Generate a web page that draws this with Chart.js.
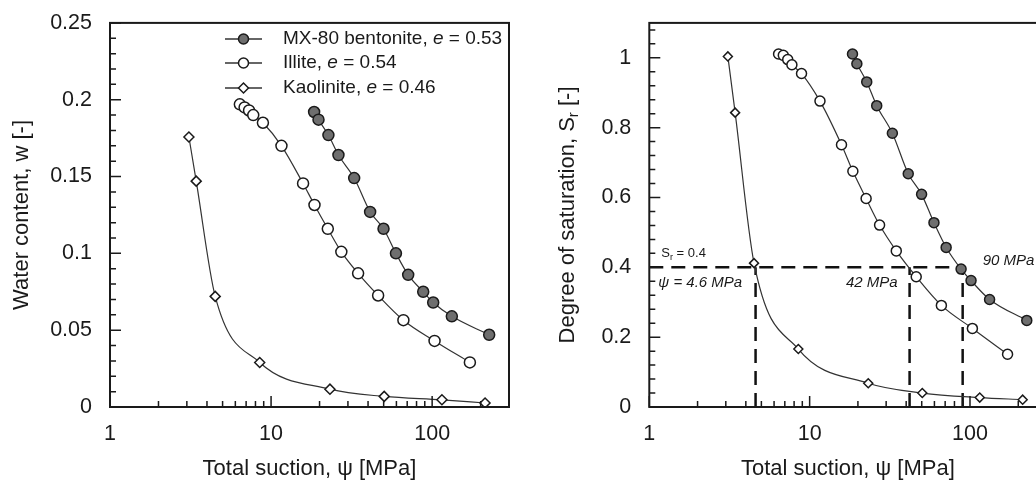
<!DOCTYPE html>
<html>
<head>
<meta charset="utf-8">
<script src="https://cdn.jsdelivr.net/npm/chart.js@4/dist/chart.umd.min.js"></script>
<style>
  html, body { margin: 0; padding: 0; background: #fff; overflow: hidden; }
  #wrapW { position: absolute; left: 0; top: 0; width: 520px; height: 481px; }
  #wrapS { position: absolute; left: 520px; top: 0; width: 540px; height: 481px; }
</style>
</head>
<body>
<div id="wrapW"><canvas id="waterChart" width="520" height="481"></canvas></div>
<div id="wrapS"><canvas id="satChart" width="540" height="481"></canvas></div>
<script>
// series names and void ratios
const seriesNames = ['MX-80 bentonite', 'Illite', 'Kaolinite'];
const voidRatios = [0.53, 0.54, 0.46];

// MX-80 bentonite
const suctionMX = [18.5, 19.7, 22.7, 26.2, 32.8, 41.2, 49.9, 59.6, 71, 88, 101.5, 132.5, 226];
const waterMX = [0.192, 0.187, 0.177, 0.164, 0.149, 0.127, 0.116, 0.100, 0.086, 0.075, 0.068, 0.059, 0.047];
const satMX = [1.011, 0.983, 0.931, 0.863, 0.784, 0.668, 0.609, 0.528, 0.457, 0.395, 0.362, 0.308, 0.248];

// Illite
const suctionIl = [6.4, 6.85, 7.3, 7.75, 8.9, 11.6, 15.8, 18.6, 22.5, 27.3, 34.7, 46.2, 66.3, 103.5, 171.5];
const waterIl = [0.197, 0.195, 0.193, 0.190, 0.185, 0.170, 0.1455, 0.1315, 0.116, 0.101, 0.087, 0.0726, 0.0565, 0.043, 0.029];
const satIl = [1.011, 1.007, 0.995, 0.980, 0.955, 0.876, 0.751, 0.675, 0.597, 0.521, 0.447, 0.373, 0.291, 0.225, 0.151];

// Kaolinite
const suctionKa = [3.09, 3.43, 4.5, 8.5, 23.2, 50.4, 115, 213];
const waterKa = [0.1757, 0.147, 0.072, 0.029, 0.0116, 0.0069, 0.0047, 0.0026];
const satKa = [1.004, 0.843, 0.412, 0.166, 0.068, 0.040, 0.027, 0.021];

// reference lines on the saturation plot
const satRef = 0.4;
const refSuctions = [4.6, 42, 90];

// tick labels
const xTicks = [1, 10, 100];
const yTicksW = [0, 0.05, 0.1, 0.15, 0.2, 0.25];
const yTicksS = [0, 0.2, 0.4, 0.6, 0.8, 1];

const FONT = '"Liberation Sans", Arial, sans-serif';
const INK = '#1a1a1a';

function pts(xs, ys) {
    return xs.map((x, i) => ({ x: x, y: ys[i] }));
}

function seriesSets(ys, big) {
    const r = big ? 5.5 : 5;
    const base = {
        showLine: true,
        borderColor: '#333',
        borderWidth: 1.2,
        pointBorderColor: INK,
        pointBorderWidth: 1.5,
        cubicInterpolationMode: 'monotone',
        order: 1
    };
    return [
        Object.assign({}, base, { label: seriesNames[0], data: pts(suctionMX, ys[0]), pointStyle: 'circle', pointRadius: r, pointBackgroundColor: '#6e6e6e' }),
        Object.assign({}, base, { label: seriesNames[1], data: pts(suctionIl, ys[1]), pointStyle: 'circle', pointRadius: r, pointBackgroundColor: '#fff' }),
        Object.assign({}, base, { label: seriesNames[2], data: pts(suctionKa, ys[2]), pointStyle: 'rectRot', pointRadius: r - 0.5, pointBackgroundColor: '#fff' })
    ];
}

function dashed(data) {
    return {
        label: '',
        data: data,
        showLine: true,
        borderColor: '#111',
        borderWidth: 2.5,
        borderDash: [14, 8],
        pointRadius: 0,
        order: 2
    };
}

// frame, inward ticks, axis titles, legend, annotations
const frame = {
    id: 'frame',
    afterDraw(chart, args, o) {
        const ctx = chart.ctx;
        const a = chart.chartArea;
        const x = chart.scales.x, y = chart.scales.y;
        ctx.save();
        ctx.strokeStyle = INK;
        ctx.lineWidth = 1.5;
        ctx.beginPath();
        const n = Math.floor(y.max / o.yMinor + 1e-6);
        for (let i = 0; i <= n; i++) {
            const v = i * o.yMinor;
            const major = Math.abs(v / o.yMajor - Math.round(v / o.yMajor)) < 1e-6;
            const py = y.getPixelForValue(v);
            ctx.moveTo(a.left, py);
            ctx.lineTo(a.left + (major ? 11 : 6), py);
        }
        for (let d = 1; d <= x.max; d *= 10) {
            for (let m = 1; m <= 9; m++) {
                const v = d * m;
                if (v > x.max) break;
                const px = x.getPixelForValue(v);
                ctx.moveTo(px, a.bottom);
                ctx.lineTo(px, a.bottom - (m === 1 ? 11 : 6));
            }
        }
        ctx.stroke();
        ctx.lineWidth = 2;
        ctx.strokeRect(a.left, a.top, a.right - a.left, a.bottom - a.top);

        // axis titles
        ctx.fillStyle = INK;
        ctx.font = '22px ' + FONT;
        ctx.textAlign = 'center';
        ctx.textBaseline = 'middle';
        ctx.fillText('Total suction, \u03c8 [MPa]', (a.left + a.right) / 2, a.bottom + 62);

        ctx.save();
        ctx.translate(o.yTitleX, (a.top + a.bottom) / 2);
        ctx.rotate(-Math.PI / 2);
        const parts = o.yTitle;
        ctx.textAlign = 'left';
        const widths = parts.map(p => { ctx.font = (p.sub ? '15px ' : '22px ') + FONT; return ctx.measureText(p.t).width; });
        let cx = -widths.reduce((s, w) => s + w, 0) / 2;
        parts.forEach((p, i) => {
            ctx.font = (p.sub ? '15px ' : '22px ') + FONT;
            ctx.fillText(p.t, cx, p.sub ? 6 : 0);
            cx += widths[i];
        });
        ctx.restore();

        if (o.legend) drawLegend(chart);
        if (o.notes) drawNotes(chart);
        ctx.restore();
    }
};

function drawLegend(chart) {
    const ctx = chart.ctx;
    const rows = [39, 63, 88];
    const styles = [
        { s: 'circle', bg: '#6e6e6e' },
        { s: 'circle', bg: '#fff' },
        { s: 'rectRot', bg: '#fff' }
    ];
    rows.forEach((ry, i) => {
        ctx.strokeStyle = '#333';
        ctx.lineWidth = 1.5;
        ctx.beginPath();
        ctx.moveTo(225, ry);
        ctx.lineTo(262, ry);
        ctx.stroke();
        ctx.fillStyle = styles[i].bg;
        ctx.strokeStyle = INK;
        Chart.helpers.drawPoint(ctx, { pointStyle: styles[i].s, radius: 5, borderWidth: 1.5 }, 243.5, ry);
        ctx.fillStyle = INK;
        ctx.textAlign = 'left';
        ctx.textBaseline = 'middle';
        let tx = 283;
        const segs = [
            { t: seriesNames[i] + ', ', it: false },
            { t: 'e', it: true },
            { t: ' = ' + voidRatios[i].toFixed(2), it: false }
        ];
        segs.forEach(sg => {
            ctx.font = (sg.it ? 'italic ' : '') + '19px ' + FONT;
            ctx.fillText(sg.t, tx, ry);
            tx += ctx.measureText(sg.t).width;
        });
    });
}

function drawNotes(chart) {
    const ctx = chart.ctx;
    const a = chart.chartArea;
    const x = chart.scales.x, y = chart.scales.y;
    const y4 = y.getPixelForValue(satRef);
    ctx.fillStyle = INK;
    ctx.textBaseline = 'middle';
    ctx.textAlign = 'left';
    // S_r = 0.4
    ctx.font = '13px ' + FONT;
    let tx = a.left + 12;
    ctx.fillText('S', tx, y4 - 14);
    tx += ctx.measureText('S').width;
    ctx.font = '9px ' + FONT;
    ctx.fillText('r', tx, y4 - 10);
    tx += ctx.measureText('r').width;
    ctx.font = '13px ' + FONT;
    ctx.fillText(' = ' + satRef, tx, y4 - 14);

    ctx.font = 'italic 15px ' + FONT;
    ctx.fillText('\u03c8 = ' + refSuctions[0] + ' MPa', a.left + 9, y4 + 16);
    ctx.textAlign = 'right';
    ctx.fillText(refSuctions[1] + ' MPa', x.getPixelForValue(refSuctions[1]) - 12, y4 + 16);
    ctx.textAlign = 'left';
    ctx.fillText(refSuctions[2] + ' MPa', x.getPixelForValue(refSuctions[2]) + 20, y4 - 6);
}

function makeOptions(yTicks, yMax, yWidth, rightPad, frameOpts) {
    return {
        responsive: false,
        animation: false,
        devicePixelRatio: 1,
        layout: { padding: { top: 19, right: rightPad, left: 0, bottom: 0 } },
        plugins: { legend: { display: false }, tooltip: { enabled: false }, frame: frameOpts },
        scales: {
            x: {
                type: 'logarithmic',
                min: 1,
                max: 300,
                grid: { display: false },
                border: { display: false },
                afterBuildTicks: s => { s.ticks = xTicks.map(v => ({ value: v })); },
                afterFit: s => { s.height = 74; },
                ticks: {
                    color: INK,
                    font: { family: FONT, size: 21.5 },
                    padding: 6,
                    maxRotation: 0,
                    callback: v => String(v)
                }
            },
            y: {
                type: 'linear',
                min: 0,
                max: yMax,
                grid: { display: false },
                border: { display: false },
                afterBuildTicks: s => { s.ticks = yTicks.map(v => ({ value: v })); },
                afterFit: s => { s.width = yWidth; },
                ticks: {
                    color: INK,
                    font: { family: FONT, size: 21.5 },
                    padding: 10,
                    callback: v => String(v)
                }
            }
        }
    };
}

new Chart(document.getElementById('waterChart').getContext('2d'), {
    type: 'scatter',
    data: { datasets: seriesSets([waterMX, waterIl, waterKa], true) },
    options: makeOptions(yTicksW, 0.25, 110, 11, {
        yMinor: 0.01, yMajor: 0.05, yTitleX: 22, legend: true,
        yTitle: [{ t: 'Water content, w [-]' }]
    }),
    plugins: [frame]
});

const refSets = [dashed([{ x: 1, y: satRef }, { x: refSuctions[2], y: satRef }])]
    .concat(refSuctions.map(s => dashed([{ x: s, y: 0 }, { x: s, y: satRef }])));

new Chart(document.getElementById('satChart').getContext('2d'), {
    type: 'scatter',
    data: { datasets: seriesSets([satMX, satIl, satKa], false).concat(refSets) },
    options: makeOptions(yTicksS, 1.1, 129.3, 13.5, {
        yMinor: 0.04, yMajor: 0.2, yTitleX: 48, notes: true,
        yTitle: [{ t: 'Degree of saturation, S' }, { t: 'r', sub: true }, { t: ' [-]' }]
    }),
    plugins: [frame]
});
</script>
</body>
</html>
